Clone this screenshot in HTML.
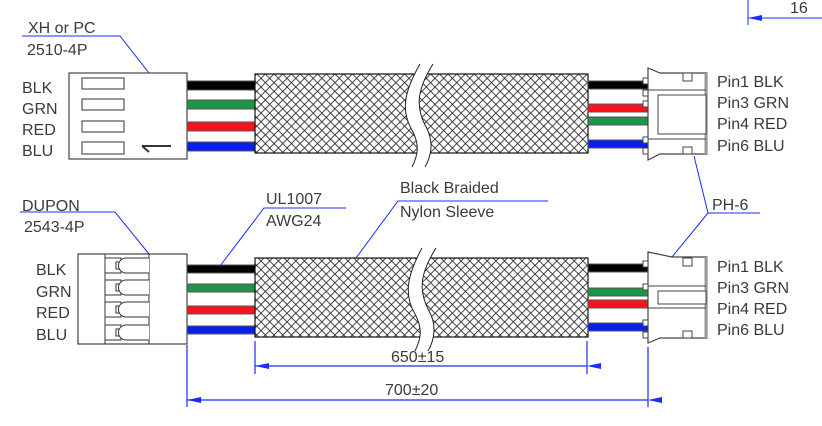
<!DOCTYPE html>
<html><head><meta charset="utf-8"><style>
html,body{margin:0;padding:0;background:#fff}
svg{display:block}
text{font-family:"Liberation Sans","DejaVu Sans",sans-serif;font-size:16px;fill:#3a3a3a}
</style></head><body>
<svg width="822" height="426" viewBox="0 0 822 426" xmlns="http://www.w3.org/2000/svg">
<defs>
<pattern id="h" width="8.7" height="8.7" patternUnits="userSpaceOnUse">
<rect width="8.7" height="8.7" fill="#fff"/>
<path d="M0 0L8.7 8.7M8.7 0L0 8.7" stroke="#222" stroke-width="0.8"/>
</pattern>
<marker id="a" markerWidth="14" markerHeight="6" refX="0" refY="3" orient="auto" markerUnits="userSpaceOnUse"><path d="M0 3L14 0L14 6Z" fill="#1a2cff"/></marker>
</defs>

<line x1="748" y1="0" x2="748" y2="25" stroke="#1a2cff"/>
<line x1="748" y1="18" x2="822" y2="18" stroke="#1a2cff" marker-start="url(#a)"/>
<text x="790" y="13">16</text>

<!-- ===== TOP ===== -->
<text x="28" y="33">XH or PC</text>
<text x="27" y="55">2510-4P</text>
<polyline points="22,36 120,36 153,78" fill="none" stroke="#1a2cff"/>
<text x="22" y="93">BLK</text><text x="22" y="114">GRN</text><text x="22" y="135">RED</text><text x="22" y="156">BLU</text>
<rect x="69" y="73" width="118" height="86" fill="#fff" stroke="#444" stroke-width="1.2"/>
<rect x="82" y="78" width="42" height="11" fill="#fff" stroke="#333"/>
<rect x="82" y="99" width="42" height="11" fill="#fff" stroke="#333"/>
<rect x="82" y="121" width="42" height="11" fill="#fff" stroke="#333"/>
<rect x="82" y="142" width="42" height="12" fill="#fff" stroke="#333"/>
<path d="M171 146H142M142 146L149 152" stroke="#333" stroke-width="2" fill="none"/>
<g stroke="#555" stroke-width="1">
<rect x="187" y="81" width="68" height="9" fill="#000"/>
<rect x="187" y="100" width="68" height="9" fill="#1d9446"/>
<rect x="187" y="122" width="68" height="9" fill="#f5141e"/>
<rect x="187" y="142" width="68" height="9" fill="#0a1ef0"/>
</g>
<rect x="255" y="74" width="333" height="79" fill="url(#h)" stroke="#111" stroke-width="1.2"/>
<path d="M420 64C405 90 400 110 412 130C420 145 418 155 412 167L425 167C432 155 434 140 425 125C415 105 418 88 433 64Z" fill="#fff"/>
<path d="M420 64C405 90 400 110 412 130C420 145 418 155 412 167M433 64C418 88 415 105 425 125C434 140 432 155 425 167" fill="none" stroke="#222"/>
<g stroke="#555" stroke-width="1">
<rect x="588" y="81" width="60" height="8" fill="#000"/>
<rect x="588" y="104" width="60" height="8" fill="#f5141e"/>
<rect x="588" y="117" width="60" height="8" fill="#1d9446"/>
<rect x="588" y="140" width="60" height="8" fill="#0a1ef0"/>
</g>
<path d="M648 68L660 73H707V154H660L648 160Z" fill="#fff" stroke="#444" stroke-width="1.2"/>
<line x1="706" y1="73" x2="706" y2="154" stroke="#999" stroke-width="3"/>
<line x1="648" y1="90" x2="706" y2="90" stroke="#444"/>
<line x1="648" y1="139" x2="706" y2="139" stroke="#444"/>
<rect x="658" y="95" width="48" height="39" fill="#fff" stroke="#444"/>
<rect x="683" y="73" width="9" height="8" fill="#fff" stroke="#444"/>
<rect x="683" y="147" width="9" height="7" fill="#fff" stroke="#444"/>
<g fill="#fff" stroke="#444"><rect x="643" y="78" width="5" height="6"/><rect x="643" y="90" width="5" height="6"/><rect x="643" y="101" width="5" height="6"/><rect x="643" y="137" width="5" height="6"/><rect x="643" y="148" width="5" height="6"/></g>
<text x="717" y="87">Pin1 BLK</text><text x="717" y="108">Pin3 GRN</text><text x="717" y="129">Pin4 RED</text><text x="717" y="151">Pin6 BLU</text>

<polyline points="694,156 708,213 760,213" fill="none" stroke="#1a2cff"/>
<line x1="708" y1="213" x2="672" y2="257" stroke="#1a2cff"/>
<text x="712" y="210">PH-6</text>

<!-- ===== BOTTOM ===== -->
<text x="22" y="211">DUPON</text>
<text x="24" y="232">2543-4P</text>
<polyline points="20,212 115,212 149,254" fill="none" stroke="#1a2cff"/>
<text x="36" y="275">BLK</text><text x="36" y="297">GRN</text><text x="36" y="318">RED</text><text x="36" y="340">BLU</text>
<rect x="78" y="254" width="109" height="90" fill="#fff" stroke="#444" stroke-width="1.2"/>
<line x1="105" y1="254" x2="105" y2="344" stroke="#333"/>
<line x1="149" y1="254" x2="149" y2="344" stroke="#333"/>
<g fill="#fff" stroke="#333">
<rect x="105" y="258" width="16" height="15"/><rect x="116" y="262" width="5" height="7"/><path d="M149 258H126A7.5 7.5 0 0 0 126 273H149"/>
<rect x="105" y="280" width="16" height="15"/><rect x="116" y="284" width="5" height="7"/><path d="M149 280H126A7.5 7.5 0 0 0 126 295H149"/>
<rect x="105" y="302" width="16" height="15"/><rect x="116" y="306" width="5" height="7"/><path d="M149 302H126A7.5 7.5 0 0 0 126 317H149"/>
<rect x="105" y="325" width="16" height="15"/><rect x="116" y="329" width="5" height="7"/><path d="M149 325H126A7.5 7.5 0 0 0 126 340H149"/>
</g>
<g stroke="#555" stroke-width="1">
<rect x="187" y="265" width="68" height="8" fill="#000"/>
<rect x="187" y="284" width="68" height="8" fill="#1d9446"/>
<rect x="187" y="306" width="68" height="8" fill="#f5141e"/>
<rect x="187" y="326" width="68" height="8" fill="#0a1ef0"/>
</g>
<rect x="255" y="258" width="333" height="79" fill="url(#h)" stroke="#111" stroke-width="1.2"/>
<path d="M422 248C408 274 403 294 415 314C423 329 421 339 415 351L428 351C435 339 437 324 428 309C418 289 421 272 436 248Z" fill="#fff"/>
<path d="M422 248C408 274 403 294 415 314C423 329 421 339 415 351M436 248C421 272 418 289 428 309C437 324 435 339 428 351" fill="none" stroke="#222"/>
<g stroke="#555" stroke-width="1">
<rect x="588" y="264" width="60" height="8" fill="#000"/>
<rect x="588" y="288" width="60" height="8" fill="#1d9446"/>
<rect x="588" y="300" width="60" height="8" fill="#f5141e"/>
<rect x="588" y="323" width="60" height="8" fill="#0a1ef0"/>
</g>
<path d="M648 252L672 257H707V338H660L648 343Z" fill="#fff" stroke="#444" stroke-width="1.2"/>
<line x1="706" y1="257" x2="706" y2="338" stroke="#999" stroke-width="3"/>
<line x1="648" y1="286" x2="706" y2="286" stroke="#444"/>
<line x1="648" y1="308" x2="706" y2="308" stroke="#444"/>
<rect x="658" y="291" width="48" height="13" fill="#fff" stroke="#444"/>
<rect x="683" y="258" width="9" height="8" fill="#fff" stroke="#444"/>
<rect x="683" y="331" width="9" height="7" fill="#fff" stroke="#444"/>
<g fill="#fff" stroke="#444"><rect x="643" y="261" width="5" height="6"/><rect x="643" y="284" width="5" height="6"/><rect x="643" y="320" width="5" height="6"/><rect x="643" y="332" width="5" height="6"/></g>
<text x="717" y="272">Pin1 BLK</text><text x="717" y="293">Pin3 GRN</text><text x="717" y="314">Pin4 RED</text><text x="717" y="335">Pin6 BLU</text>

<text x="266" y="204">UL1007</text>
<text x="266" y="226">AWG24</text>
<polyline points="346,208 264,208 220,266" fill="none" stroke="#1a2cff"/>
<text x="400" y="193">Black Braided</text>
<text x="400" y="217">Nylon Sleeve</text>
<polyline points="548,201 398,201 356,258" fill="none" stroke="#1a2cff"/>

<g stroke="#1a2cff" stroke-width="1.2">
<line x1="187" y1="345" x2="187" y2="407"/>
<line x1="255" y1="341" x2="255" y2="374"/>
<line x1="587" y1="341" x2="587" y2="374"/>
<line x1="648" y1="347" x2="648" y2="407"/>
<line x1="255" y1="366" x2="587" y2="366" marker-start="url(#a)" marker-end="url(#a)"/>
<line x1="187" y1="400" x2="648" y2="400" marker-start="url(#a)" marker-end="url(#a)"/>
</g>
<text x="391" y="362">650±15</text>
<text x="385" y="395">700±20</text>
</svg>
</body></html>
